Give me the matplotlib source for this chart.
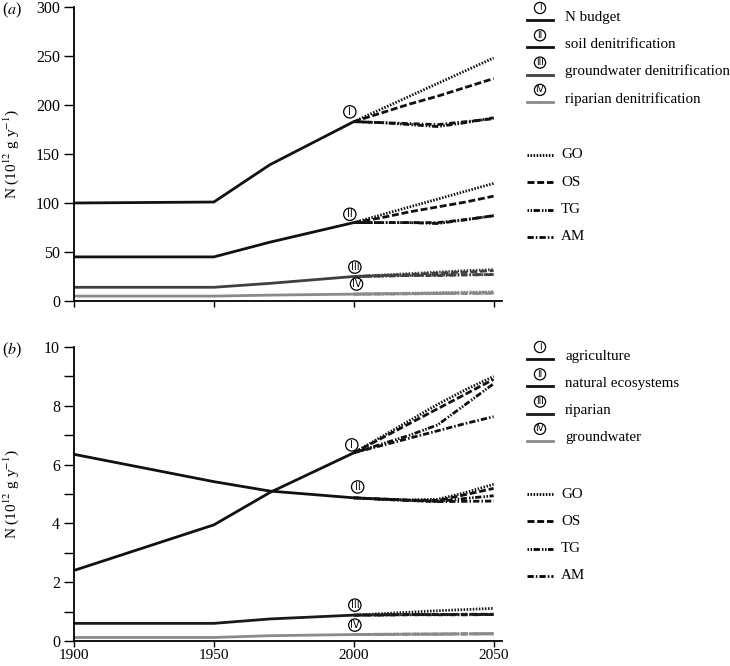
import matplotlib
matplotlib.use("Agg")
import matplotlib.pyplot as plt
from matplotlib.lines import Line2D

plt.rcParams.update({
    "font.family": "Liberation Serif",
    "font.size": 11.5,
    "mathtext.fontset": "stix",
    "lines.scale_dashes": False,
    "axes.spines.top": False,
    "axes.spines.right": False,
})

# ---- data -------------------------------------------------------------
hist_years = [1900, 1950, 1970, 2000]
scen_years = [2000, 2010, 2020, 2030, 2040, 2050]
scenarios = ["GO", "OS", "TG", "AM"]

# panel (a): N budget and denitrification
a_names = ["N budget", "soil denitrification", "groundwater denitrification",
           "riparian denitrification"]
a_hist = [
    [100, 101, 139, 183],
    [45, 45, 60, 80],
    [14, 14, 18, 25],
    [5, 5, 6, 7],
]
a_scen = [
    {"GO": [183, 196, 209, 222, 235, 248],
     "OS": [183, 192, 201, 209, 218, 227],
     "TG": [183, 182, 180, 178, 182, 187],
     "AM": [183, 182, 181, 180, 183, 186]},
    {"GO": [80, 88, 96, 104, 112, 120],
     "OS": [80, 85, 91, 96, 101, 107],
     "TG": [80, 80, 80, 79, 83, 87],
     "AM": [80, 80, 80, 80, 83, 87]},
    {"GO": [25, 26.5, 28, 29.5, 31, 32],
     "OS": [25, 26, 27, 28.5, 29.5, 31],
     "TG": [25, 25.5, 26, 26.5, 27, 27],
     "AM": [25, 25.5, 26, 26, 26.5, 27]},
    {"GO": [7, 7.5, 8, 8.5, 9, 9.5],
     "OS": [7, 7.3, 7.6, 8, 8.3, 8.7],
     "TG": [7, 7.2, 7.4, 7.6, 7.8, 8],
     "AM": [7, 7.1, 7.3, 7.5, 7.7, 7.9]},
]

# panel (b): sources
b_names = ["agriculture", "natural ecosystems", "riparian", "groundwater"]
b_hist = [
    [2.4, 3.95, 5.05, 6.4],
    [6.35, 5.42, 5.1, 4.87],
    [0.6, 0.6, 0.75, 0.88],
    [0.12, 0.12, 0.18, 0.22],
]
b_scen = [
    {"GO": [6.4, 6.95, 7.5, 8.05, 8.55, 9.0],
     "OS": [6.4, 6.9, 7.4, 7.9, 8.4, 8.9],
     "TG": [6.4, 6.7, 7.0, 7.35, 8.05, 8.75],
     "AM": [6.4, 6.65, 6.9, 7.15, 7.4, 7.63]},
    {"GO": [4.87, 4.83, 4.8, 4.82, 5.05, 5.33],
     "OS": [4.87, 4.83, 4.79, 4.78, 4.98, 5.19],
     "TG": [4.87, 4.82, 4.78, 4.75, 4.85, 4.94],
     "AM": [4.87, 4.82, 4.78, 4.74, 4.75, 4.76]},
    {"GO": [0.88, 0.93, 0.98, 1.03, 1.07, 1.11],
     "OS": [0.88, 0.89, 0.9, 0.9, 0.91, 0.91],
     "TG": [0.88, 0.89, 0.9, 0.9, 0.9, 0.9],
     "AM": [0.88, 0.88, 0.89, 0.89, 0.89, 0.9]},
    {"GO": [0.22, 0.23, 0.24, 0.24, 0.25, 0.26],
     "OS": [0.22, 0.23, 0.23, 0.24, 0.24, 0.25],
     "TG": [0.22, 0.22, 0.23, 0.23, 0.24, 0.24],
     "AM": [0.22, 0.22, 0.23, 0.23, 0.24, 0.24]},
]

numerals = ["I", "II", "III", "IV"]
# ---- styles -----------------------------------------------------------
a_colors = ["#111111", "#111111", "#404040", "#8a8a8a"]
b_colors = ["#111111", "#111111", "#1a1a1a", "#8a8a8a"]
dashes = {
    "GO": (1.1, 1.1),
    "OS": (5.0, 2.0),
    "TG": (1.1, 1.1, 1.1, 1.1, 4.5, 1.5),
    "AM": (4.5, 1.5, 1.1, 1.5),
}
LW = 2.0

W, H = 730, 666
fig = plt.figure(figsize=(W / 100, H / 100), dpi=100)
ax_a = fig.add_axes([74 / W, (H - 301) / H, 428 / W, 294 / H])
ax_b = fig.add_axes([74 / W, (H - 641) / H, 428 / W, 294 / H])

# numeral label positions in data coords (placement only)
a_lab = [(1998.6, 193), (1998.6, 88.5), (2000.4, 34.6), (2001, 17.3)]
b_lab = [(1999.3, 6.67), (2001.4, 5.24), (2000.4, 1.22), (2000.4, 0.54)]


def circ(ax, x, y, s, transform=None, fs=7):
    kw = {} if transform is None else {"transform": transform}
    ax.text(x, y, s, ha="center", va="center", fontsize=fs,
            fontfamily="DejaVu Sans",
            bbox=dict(boxstyle="circle,pad=0.12", fc="white", ec="black", lw=0.9),
            zorder=6, **kw)


def draw(ax, hist, scen, colors, labs):
    for h, sc, c, (lx, ly), num in zip(hist, scen, colors, labs, numerals):
        ax.plot(hist_years, h, color=c, lw=LW, solid_capstyle="butt")
        for s in scenarios:
            ax.plot(scen_years, sc[s], color=c, lw=LW, dashes=dashes[s],
                    dash_capstyle="butt")
        circ(ax, lx, ly, num)
    ax.set_xlim(1900, 2053)
    ax.set_xticks([1900, 1950, 2000, 2050])
    ax.tick_params(axis="y", direction="out", length=7, width=1, pad=3)
    ax.tick_params(axis="x", direction="out", length=4, width=1, pad=1.5,
                   labelsize=11)
    ax.spines["left"].set_linewidth(1.3)
    ax.spines["bottom"].set_linewidth(1.3)
    ax.set_ylabel(r"N (10$^{12}$ g y$^{-1}$)", fontsize=11)
    ax.yaxis.set_label_coords(-0.124, 0.5)


draw(ax_a, a_hist, a_scen, a_colors, a_lab)
ax_a.set_ylim(0, 300)
ax_a.set_yticks(range(0, 301, 50))
ax_a.set_xticklabels([])

draw(ax_b, b_hist, b_scen, b_colors, b_lab)
ax_b.set_ylim(0, 10)
ax_b.set_yticks(range(0, 11, 2))
ax_b.set_yticks(range(1, 10, 2), minor=True)
ax_b.tick_params(axis="y", which="minor", direction="out", length=7, width=1)

fig.text(2 / W, 1 - 10 / H, r"($\it{a}$)", fontsize=11.5, va="center")
fig.text(2 / W, 1 - 350 / H, r"($\it{b}$)", fontsize=11.5, va="center")


def legend(names, colors, top_px, scen_top_px):
    for i, (n, c, num) in enumerate(zip(names, colors, numerals)):
        y = top_px + i * 27.3
        fig.add_artist(Line2D([527 / W, 553 / W], [1 - (y + 3) / H] * 2,
                              color=c, lw=LW, transform=fig.transFigure))
        circ(fig, 540 / W, 1 - (y - 9) / H, num, transform=fig.transFigure, fs=6.5)
        fig.text(565 / W, 1 - y / H, n, va="center", fontsize=10.8)
    for i, s in enumerate(scenarios):
        y = scen_top_px + i * 27.3
        fig.add_artist(Line2D([527 / W, 553 / W], [1 - y / H] * 2, color="black",
                              lw=LW, dashes=dashes[s], transform=fig.transFigure))
        fig.text(561 / W, 1 - y / H, s, va="center", fontsize=10.8)


legend(a_names, a_colors, 17, 155)
legend(b_names, b_colors, 356, 494)

fig.savefig("out.png", dpi=100)
